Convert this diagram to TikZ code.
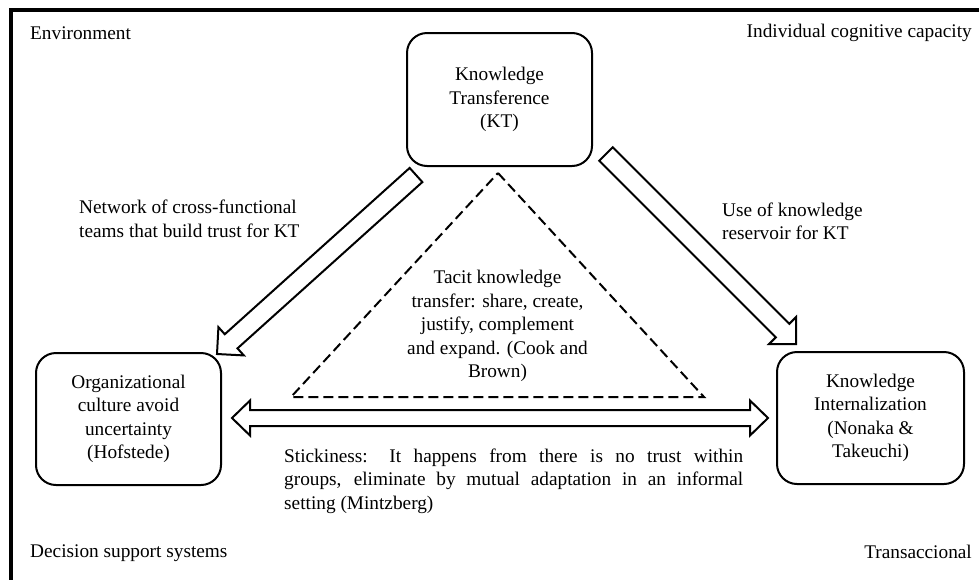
\documentclass[tikz,border=0pt]{standalone}
\usepackage{fontspec}
\setmainfont{Liberation Serif}
\usetikzlibrary{calc}
\tikzset{
  txt/.style={inner sep=0pt, font=\fontsize{19.3}{23.5}\selectfont},
  kbox/.style={txt, draw, line width=2pt, rounded corners=20pt, align=center},
  arrowline/.style={draw, line width=2pt, fill=white, line join=miter},
  dashtri/.style={draw, line width=2pt, dash pattern=on 10pt off 5pt},
  frameline/.style={draw, line width=3.5pt},
}
\newcommand\blockarr[5]{%
  \coordinate (bac) at ($(#2)!#5!(#1)$);
  \path[arrowline] ($(#1)!#3!90:(#2)$) -- ($(bac)!#3!90:(#2)$) -- ($(bac)!#4!90:(#2)$) -- (#2)
    -- ($(bac)!#4!-90:(#2)$) -- ($(bac)!#3!-90:(#2)$) -- ($(#1)!#3!-90:(#2)$) -- cycle;}
\begin{document}
\begin{tikzpicture}[x=1pt,y=-1pt]
\useasboundingbox (0,0) rectangle (979,579);
\clip (0,0) rectangle (979,579);
% frame
\path[frameline] (11,640) -- (11,10) -- (1040,10);
% corner labels
\node[txt, anchor=west] (env) at (30,33) {Environment};
\node[txt, anchor=east] (icc) at (972,33) {Individual cognitive capacity};
\node[txt, anchor=west] (dss) at (30,553) {Decision support systems};
\node[txt, anchor=east] (trs) at (972,552) {Transaccional};
% boxes
\node[kbox, minimum width=185pt, minimum height=133pt] (kt) at (499.5,99.5) {Knowledge\\Transference\\(KT)};
\node[kbox, minimum width=185pt, minimum height=132pt] (org) at (128.5,419) {Organizational\\culture avoid\\uncertainty\\(Hofstede)};
\node[kbox, minimum width=187pt, minimum height=132pt] (ki) at (870.5,418) {Knowledge\\Internalization\\(Nonaka \&\\Takeuchi)};
% dashed triangle
\coordinate (tapex) at (498,173);
\coordinate (tleft) at (291,397);
\coordinate (tright) at (704,397);
\path[dashtri] (tapex) -- (tright) -- (tleft) -- cycle;
\node[txt, align=center] (tacit) at (497.5,326) {Tacit knowledge\\transfer: share, create,\\justify, complement\\and expand. (Cook and\\Brown)};
% diagonal block arrows
\coordinate (la) at (416,175);
\coordinate (lb) at (217,354);
\blockarr{la}{lb}{9.5pt}{19pt}{19pt}
\coordinate (ra) at (606,154);
\coordinate (rb) at (796,344);
\blockarr{ra}{rb}{9.5pt}{19pt}{19pt}
% horizontal double block arrow
\coordinate (hl) at (232,418);
\coordinate (hr) at (768,418);
\path[arrowline] (hl) -- ($(hl)+(18,-17.5)$) -- ($(hl)+(18,-8)$) -- ($(hr)+(-18,-8)$) -- ($(hr)+(-18,-17.5)$)
  -- (hr) -- ($(hr)+(-18,17.5)$) -- ($(hr)+(-18,8)$) -- ($(hl)+(18,8)$) -- ($(hl)+(18,17.5)$) -- cycle;
% arrow labels
\node[txt, anchor=west, align=left] (net) at (79,219) {Network of cross-functional\\teams that build trust for KT};
\node[txt, anchor=west, align=left] (use) at (722,221.5) {Use of knowledge\\reservoir for KT};
\node[txt, anchor=west, align=left] (stick) at (284,481) {\makebox[459pt][s]{Stickiness: It happens from there is no trust within}\\\makebox[459pt][s]{groups, eliminate by mutual adaptation in an informal}\\setting (Mintzberg)};
\end{tikzpicture}
\end{document}
